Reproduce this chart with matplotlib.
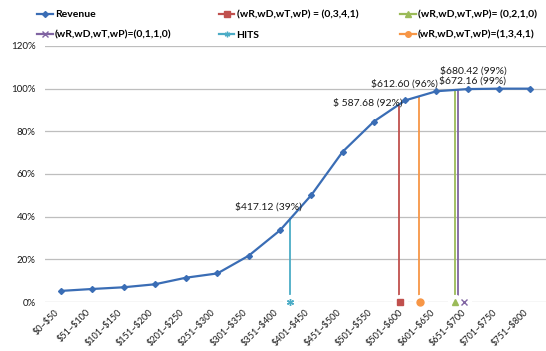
import matplotlib
matplotlib.use("Agg")
import matplotlib.pyplot as plt
from matplotlib.lines import Line2D
from matplotlib.ticker import PercentFormatter

plt.rcParams['font.family'] = ['Lato', 'DejaVu Sans']

categories = ["$0~$50", "$51~$100", "$101~$150", "$151~$200", "$201~$250", "$251~$300",
              "$301~$350", "$351~$400", "$401~$450", "$451~$500", "$501~$550", "$501~$600",
              "$601~$650", "$651~$700", "$701~$750", "$751~$800"]
revenue = [0.052, 0.061, 0.069, 0.083, 0.114, 0.134, 0.217, 0.336, 0.501, 0.704,
           0.846, 0.945, 0.988, 0.998, 1.0, 1.0]

method_names = ["HITS", "(wR,wD,wT,wP) = (0,3,4,1)", "(wR,wD,wT,wP)=(1,3,4,1)",
                "(wR,wD,wT,wP)= (0,2,1,0)", "(wR,wD,wT,wP)=(0,1,1,0)"]
method_x = [7.33, 10.8, 11.45, 12.58, 12.69]          # position on category axis
method_share = [0.39, 0.92, 0.96, 0.99, 0.99]          # revenue share reached
method_marker_x = [7.31, 10.82, 11.46, 12.58, 12.87]
method_labels = ["$417.12 (39%)", "$ 587.68 (92%)", "$612.60 (96%)", "$672.16 (99%)", "$680.42 (99%)"]
method_colors = ["#4BACC6", "#C0504D", "#F79646", "#9BBB59", "#8064A2"]
method_markers = [(6, 2, 0), "s", "o", "^", "x"]
label_offsets = [(-22, 12), (-31, 3), (-15, 13), (18, 10), (15, 20)]

fig = plt.figure(figsize=(5.46, 3.51), dpi=100)
ax = fig.add_axes([0.083, 0.1396, 0.917, 0.7294])

xs = list(range(len(categories)))
ax.plot(xs, revenue, color="#3A6DB5", lw=1.6, marker="D", ms=3, zorder=5)

line_bottom = 0.035
for i in range(len(method_names)):
    ax.plot([method_x[i], method_x[i]], [line_bottom, method_share[i]],
            color=method_colors[i], lw=1.3, zorder=4)
    ax.plot([method_marker_x[i]], [0], marker="o", ms=10, color="white",
            mec="white", zorder=6, clip_on=False)
    ax.plot([method_marker_x[i]], [0], marker=method_markers[i], ms=5,
            color=method_colors[i], mew=1.0, zorder=7, clip_on=False)
    ax.annotate(method_labels[i], xy=(method_x[i], method_share[i]),
                xytext=label_offsets[i], textcoords="offset pixels",
                ha="center", va="center", fontsize=7.5, color="#1a1a1a", zorder=8,
                parse_math=False)

ax.set_xlim(-0.5, len(categories) - 0.5)
ax.set_ylim(0, 1.2)
ax.set_yticks([0, 0.2, 0.4, 0.6, 0.8, 1.0, 1.2])
ax.yaxis.set_major_formatter(PercentFormatter(1.0, decimals=0))
ax.set_xticks(xs)
ax.set_xticklabels(categories, rotation=45, ha="right", fontsize=6.6, color="#1a1a1a",
                   parse_math=False)
ax.tick_params(axis="x", length=0, pad=4)
ax.tick_params(axis="y", length=0, pad=7, labelsize=7, labelcolor="#1a1a1a")
ax.grid(axis="y", color="#BEBEBE", lw=0.9)
ax.set_axisbelow(True)
for s in ax.spines.values():
    s.set_visible(False)

def handle(color, marker, ms=4):
    return Line2D([], [], color=color, lw=1.6, marker=marker, ms=ms)

h_rev = handle("#3A6DB5", "D", 3)
h = [handle(method_colors[i], method_markers[i]) for i in range(len(method_names))]
cols = [
    ([h_rev, h[4]], ["Revenue", method_names[4]], 0.062),
    ([h[1], h[0]], [method_names[1], "HITS"], 0.395),
    ([h[3], h[2]], [method_names[3], method_names[2]], 0.727),
]
for hs, ls, x0 in cols:
    fig.legend(hs, ls, loc="upper left", bbox_to_anchor=(x0, 0.98), frameon=False,
               handlelength=1.5, handletextpad=0.2, labelspacing=1.05,
               prop={"size": 7.5, "weight": "bold"}, borderaxespad=0, borderpad=0.3)

fig.savefig("out.png", dpi=100)
